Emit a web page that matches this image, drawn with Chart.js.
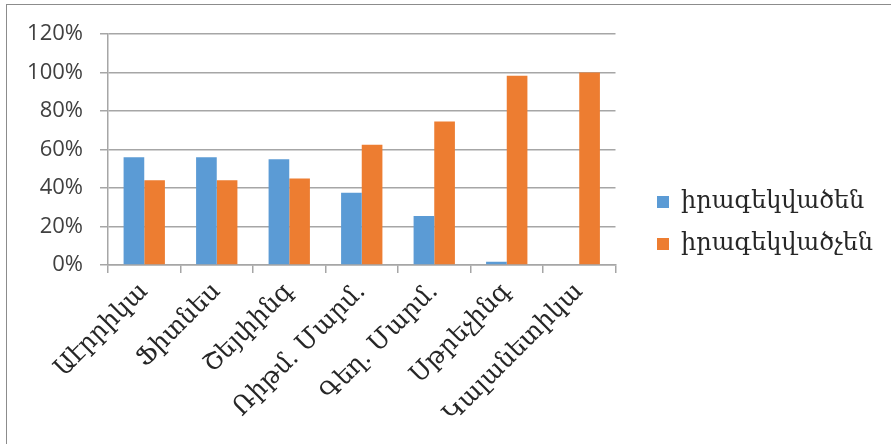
<!DOCTYPE html>
<html>
<head>
<meta charset="utf-8">
<script src="https://cdn.jsdelivr.net/npm/chart.js@4.4.1/dist/chart.umd.min.js"></script>
<style>
  html, body { margin: 0; padding: 0; background: #ffffff; }
  #wrap { position: relative; width: 891px; height: 444px; overflow: hidden; }
  #frame { position: absolute; left: 6px; top: 4px; width: 900px; height: 460px;
           border-left: 1px solid #8c8c8c; border-top: 1px solid #8c8c8c; }
  #box { position: absolute; left: 0; top: 0; width: 891px; height: 444px; }
</style>
</head>
<body>
<div id="wrap">
  <div id="frame"></div>
  <div id="box"><canvas id="c" width="891" height="444"></canvas></div>
</div>
<script>
// Categories (regions) and the two answer shares, in percent
const categories = ['Աէրրիկա', 'Ֆիտնես', 'Շեյփինգ', 'Ռիթմ. Մարմ.', 'Գեղ. Մարմ.', 'Սթրեչինգ', 'Կալանետիկա'];
const informedLabel = 'իրագեկվածեն';
const notInformedLabel = 'իրագեկվածչեն';
const informed = [56, 56, 55, 37.5, 25.5, 1.7, 0];
const notInformed = [44, 44, 45, 62.5, 74.5, 98.3, 100];
const yTicks = [0, 20, 40, 60, 80, 100, 120];

const armenianFont = "'DejaVu Serif', serif";
const tickFont = "'Open Sans', 'Liberation Sans', sans-serif";
const gridColor = '#a6a6a6';

// Places the legend block with a wider gap from the plot area
const legendPlacer = {
  id: 'legendPlacer',
  afterLayout(chart) {
    const lg = chart.legend;
    if (!lg) return;
    const dy = -16;
    lg.left = 639; lg.right = 891;
    lg.width = lg.right - lg.left;
    lg.top += dy; lg.bottom += dy;
  }
};

new Chart(document.getElementById('c'), {
  type: 'bar',
  data: {
    labels: categories,
    datasets: [
      { label: informedLabel, data: informed, backgroundColor: '#5B9BD5',
        borderWidth: 0, categoryPercentage: 0.57, barPercentage: 1.0 },
      { label: notInformedLabel, data: notInformed, backgroundColor: '#ED7D31',
        borderWidth: 0, categoryPercentage: 0.57, barPercentage: 1.0 }
    ]
  },
  plugins: [legendPlacer],
  options: {
    responsive: false,
    animation: false,
    layout: { padding: { left: 20, top: 34, right: 77, bottom: 0 } },
    plugins: {
      tooltip: { enabled: false },
      legend: {
        position: 'right',
        align: 'center',
        labels: {
          boxWidth: 12, boxHeight: 12, padding: 18,
          color: '#262626',
          font: { family: armenianFont, size: 24 }
        }
      }
    },
    scales: {
      x: {
        grid: { display: true, drawOnChartArea: false, offset: true, color: gridColor, lineWidth: 1.5, tickLength: 8 },
        border: { color: gridColor, width: 1.5 },
        ticks: {
          minRotation: 45, maxRotation: 45, autoSkip: false,
          color: '#262626', padding: 4,
          font: { family: armenianFont, size: 25 }
        },
        afterFit: s => { s.height = 179; }
      },
      y: {
        min: 0, max: 120,
        afterBuildTicks: s => { s.ticks = yTicks.map(v => ({ value: v })); },
        grid: { color: gridColor, lineWidth: 1.5, tickLength: 8 },
        border: { color: gridColor, width: 1.5 },
        ticks: {
          padding: 17, color: '#404040',
          font: { family: tickFont, size: 22 },
          callback: v => v + '%'
        },
        afterFit: s => { s.width = 88; }
      }
    }
  }
});
</script>
</body>
</html>
